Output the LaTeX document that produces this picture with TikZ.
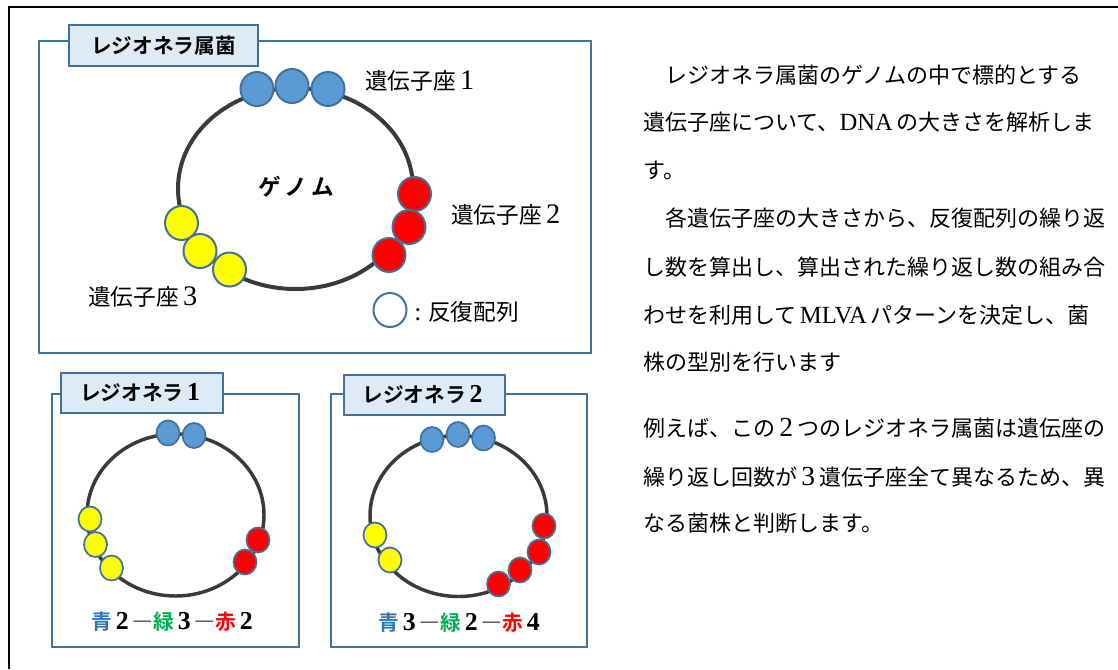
\documentclass[tikz,border=0pt]{standalone}
\usepackage{fontspec}
\usetikzlibrary{shapes.geometric}
\setmainfont{Noto Sans CJK JP}[BoldFont={Noto Sans CJK JP Bold}]
\newfontfamily\latf{Liberation Serif}[Scale=1.12]
\newfontfamily\latd{Liberation Serif}[Scale=1.25]
\XeTeXlinebreaklocale "ja"
\XeTeXlinebreakskip=0pt plus 3pt minus 1.5pt
\definecolor{boxblue}{RGB}{65,113,156}
\definecolor{tabfill}{RGB}{222,235,247}
\definecolor{repblue}{RGB}{91,155,213}
\definecolor{repb}{RGB}{65,113,156}
\definecolor{ringc}{RGB}{58,58,58}
\definecolor{cblue}{RGB}{46,117,182}
\definecolor{cgreen}{RGB}{0,176,80}
\definecolor{cred}{RGB}{255,0,0}
\definecolor{cyellow}{RGB}{255,255,0}
\newcommand\lat[1]{{\latf #1}}
\newcommand\zd[1]{\makebox[1em]{\latd #1}}
\newcommand\jline[1]{\makebox[330pt][s]{#1}}
\tikzset{
 frame/.style={draw=boxblue, line width=1.6pt},
 tabbox/.style={draw=boxblue, fill=tabfill, line width=1.6pt, inner sep=0pt, font=\bfseries\fontsize{15.5pt}{18pt}\selectfont},
 genome/.style={draw=ringc, line width=3pt},
 genomes/.style={draw=ringc, line width=2.6pt},
 rep/.style={ellipse, draw=repb, line width=1.5pt, inner sep=0pt, minimum width=24.75pt, minimum height=25.5pt},
 reps/.style={rep, minimum width=17.25pt, minimum height=18.75pt, line width=1.3pt},
 lbl/.style={anchor=west, inner sep=0pt, font=\fontsize{17pt}{20pt}\selectfont},
 body/.style={anchor=west, inner sep=0pt, font=\fontsize{16.5pt}{20pt}\selectfont},
 count/.style={inner sep=0pt, font=\bfseries\fontsize{15.5pt}{18pt}\selectfont},
}
\begin{document}
\begin{tikzpicture}[x=0.75pt,y=-0.75pt]
\useasboundingbox (0,0) rectangle (1118,669);
% outer frame (partial)
\draw[line width=1.9pt, black] (9,669) -- (9,7) -- (1118,7);

% ===== main box =====
\draw[frame] (39,41) rectangle (591,353);
\node[tabbox, minimum width=141.75pt, minimum height=30.75pt] (t0) at (163.5,45.5) {レジオネラ属菌};
\draw[genome] (295.5,188.5) ellipse [x radius=117.5, y radius=100.5];
\node[rep, fill=repblue] (b1) at (257,89) {};
\node[rep, fill=repblue] (b2) at (292,86) {};
\node[rep, fill=repblue] (b3) at (328,89) {};
\node[rep, fill=cred] (r1) at (414.5,194) {};
\node[rep, fill=cred] (r2) at (409,227) {};
\node[rep, fill=cred] (r3) at (389,255) {};
\node[rep, fill=cyellow] (y1) at (181.5,223) {};
\node[rep, fill=cyellow] (y2) at (200,251) {};
\node[rep, fill=cyellow] (y3) at (229.5,269.5) {};
\node[inner sep=0pt, font=\bfseries\fontsize{17pt}{19pt}\selectfont] (gn) at (296,187) {ゲ\hspace{3pt}ノ\hspace{3pt}ム};
\node[lbl] (l1) at (365,81) {遺伝子座\zd{1}};
\node[lbl] (l2) at (451,215) {遺伝子座\zd{2}};
\node[lbl] (l3) at (88,297) {遺伝子座\zd{3}};
\node[rep, fill=white] (lg) at (390,310) {};
\node[lbl] (lgt) at (414,312) {\lat{:} 反復配列};

% ===== box 1 =====
\draw[frame] (52,394) rectangle (299,647);
\node[tabbox, minimum width=121.5pt, minimum height=30pt] (t1) at (142,393) {レジオネラ\zd{1}};
\draw[genomes] (175.5,515) ellipse [x radius=88.5, y radius=81];
\node[reps, fill=repblue] (a1) at (168,433) {};
\node[reps, fill=repblue] (a2) at (194,435.5) {};
\node[reps, fill=cyellow] (a3) at (90,519) {};
\node[reps, fill=cyellow] (a4) at (95.5,544.5) {};
\node[reps, fill=cyellow] (a5) at (111.5,568) {};
\node[reps, fill=cred] (a6) at (258,540) {};
\node[reps, fill=cred] (a7) at (245,562) {};
\node[count] (c1) at (174,621.5) {\textcolor{cblue}{青}\zd{2}―\textcolor{cgreen}{緑}\zd{3}―\textcolor{cred}{赤}\zd{2}};

% ===== box 2 =====
\draw[frame] (331,394) rectangle (587,647);
\node[tabbox, minimum width=120.75pt, minimum height=30pt] (t2) at (424.5,395) {レジオネラ\zd{2}};
\draw[genomes] (458.5,516) ellipse [x radius=88.5, y radius=80.5];
\node[reps, fill=repblue] (d1) at (432,439.5) {};
\node[reps, fill=repblue] (d2) at (458,434.5) {};
\node[reps, fill=repblue] (d3) at (483.5,438) {};
\node[reps, fill=cyellow] (d4) at (375,535) {};
\node[reps, fill=cyellow] (d5) at (390,560) {};
\node[reps, fill=cred] (d6) at (544,526) {};
\node[reps, fill=cred] (d7) at (539,552) {};
\node[reps, fill=cred] (d8) at (520,570) {};
\node[reps, fill=cred] (d9) at (498.5,584) {};
\node[count] (c2) at (461,623) {\textcolor{cblue}{青}\zd{3}―\textcolor{cgreen}{緑}\zd{2}―\textcolor{cred}{赤}\zd{4}};

% ===== right text =====
\node[body] (p1) at (643,75) {\jline{　レジオネラ属菌のゲノムの中で標的とする}};
\node[body] (p2) at (643,122) {\jline{遺伝子座について、\lat{DNA} の大きさを解析しま}};
\node[body] (p3) at (643,170) {す。};
\node[body] (p4) at (643,218) {\jline{　各遺伝子座の大きさから、反復配列の繰り返}};
\node[body] (p5) at (643,267) {\jline{し数を算出し、算出された繰り返し数の組み合}};
\node[body] (p6) at (643,315) {\jline{わせを利用して \lat{MLVA} パターンを決定し、菌}};
\node[body] (p7) at (643,362) {株の型別を行います};
\node[body] (p8) at (643,428) {\jline{例えば、この\zd{2}つのレジオネラ属菌は遺伝座の}};
\node[body] (p9) at (643,477) {\makebox[334pt][s]{繰り返し回数が\zd{3}遺伝子座全て異なるため、異}};
\node[body] (p10) at (643,523) {なる菌株と判断します。};
\end{tikzpicture}
\end{document}
